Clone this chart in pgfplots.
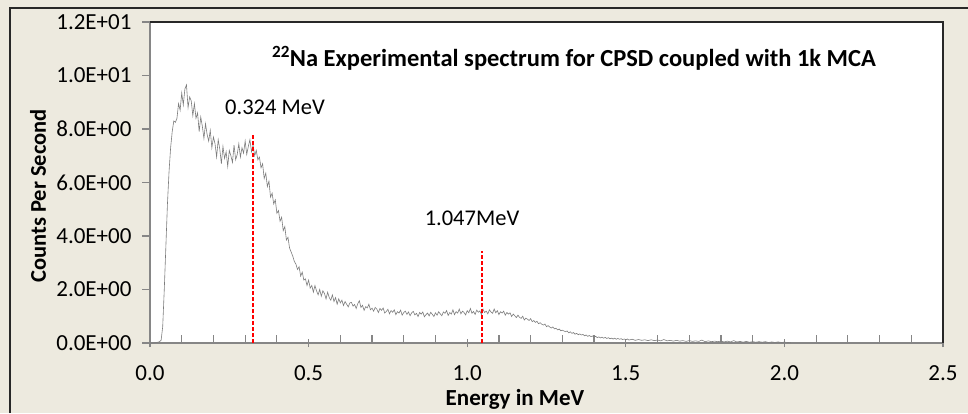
\documentclass[border=0pt]{standalone}
\usepackage{pgfplots}
\pgfplotsset{compat=1.18}
\usepackage{pgfplotstable}
\usepackage{fontspec}
\setmainfont{Carlito}

\definecolor{chartbg}{RGB}{237,234,223}
\definecolor{spec}{RGB}{125,125,125}
\definecolor{axisgray}{RGB}{134,134,134}
\definecolor{frame}{RGB}{40,40,40}

% 22Na spectrum: energy (MeV) vs counts per second
\pgfplotstableread{
E cps
0.000 0.00
0.005 0.00
0.010 0.00
0.015 0.01
0.020 0.02
0.025 0.03
0.030 0.05
0.035 0.10
0.040 0.60
0.045 2.00
0.050 3.60
0.055 5.20
0.060 6.40
0.065 7.30
0.070 7.90
0.075 8.30
0.080 8.25
0.085 8.40
0.090 8.95
0.095 8.70
0.100 9.35
0.105 8.90
0.110 9.50
0.115 9.65
0.120 8.80
0.125 9.20
0.130 9.05
0.135 8.50
0.140 8.95
0.145 8.40
0.150 8.60
0.155 7.90
0.160 8.45
0.165 8.10
0.170 7.65
0.175 8.20
0.180 7.80
0.185 7.55
0.190 7.95
0.195 7.30
0.200 7.70
0.205 7.45
0.210 6.95
0.215 7.60
0.220 7.25
0.225 6.70
0.230 7.35
0.235 6.90
0.240 7.15
0.245 6.60
0.250 7.20
0.255 7.00
0.260 6.75
0.265 7.40
0.270 6.85
0.275 7.05
0.280 7.45
0.285 6.95
0.290 7.30
0.295 7.10
0.300 7.55
0.305 7.05
0.310 7.35
0.315 7.60
0.320 7.15
0.325 7.40
0.330 7.00
0.335 7.20
0.340 6.85
0.345 6.95
0.350 6.55
0.355 6.70
0.360 6.15
0.365 6.35
0.370 5.85
0.375 6.05
0.380 5.45
0.385 5.60
0.390 5.20
0.395 5.35
0.400 4.85
0.405 4.95
0.410 4.55
0.415 4.70
0.420 4.20
0.425 4.35
0.430 3.85
0.435 3.95
0.440 3.55
0.445 3.40
0.450 3.25
0.455 3.05
0.460 2.95
0.465 2.75
0.470 2.85
0.475 2.50
0.480 2.65
0.485 2.35
0.490 2.40
0.495 2.15
0.500 2.35
0.505 2.05
0.510 2.15
0.515 1.90
0.520 2.15
0.525 1.95
0.530 1.80
0.535 2.00
0.540 1.75
0.545 1.95
0.550 1.85
0.555 1.65
0.560 1.90
0.565 1.70
0.570 1.60
0.575 1.80
0.580 1.55
0.585 1.70
0.590 1.45
0.595 1.65
0.600 1.50
0.605 1.60
0.610 1.40
0.615 1.55
0.620 1.45
0.625 1.35
0.630 1.50
0.635 1.52
0.640 1.38
0.645 1.44
0.650 1.29
0.655 1.47
0.660 1.58
0.665 1.33
0.670 1.41
0.675 1.22
0.680 1.36
0.685 1.31
0.690 1.45
0.695 1.24
0.700 1.30
0.705 1.19
0.710 1.33
0.715 1.27
0.720 1.14
0.725 1.29
0.730 1.22
0.735 1.31
0.740 1.12
0.745 1.18
0.750 1.26
0.755 1.09
0.760 1.21
0.765 1.15
0.770 1.24
0.775 1.06
0.780 1.17
0.785 1.12
0.790 1.23
0.795 1.04
0.800 1.14
0.805 1.19
0.810 1.07
0.815 1.16
0.820 1.02
0.825 1.13
0.830 1.18
0.835 1.05
0.840 1.11
0.845 0.99
0.850 1.14
0.855 1.08
0.860 1.16
0.865 0.98
0.870 1.06
0.875 1.12
0.880 1.01
0.885 1.15
0.890 1.07
0.895 0.99
0.900 1.13
0.905 1.04
0.910 1.17
0.915 1.09
0.920 1.02
0.925 1.16
0.930 1.11
0.935 1.21
0.940 1.03
0.945 1.14
0.950 1.08
0.955 1.24
0.960 1.06
0.965 1.17
0.970 1.12
0.975 1.27
0.980 1.09
0.985 1.19
0.990 1.14
0.995 1.05
1.000 1.21
1.005 1.13
1.010 1.29
1.015 1.11
1.020 1.18
1.025 1.07
1.030 1.23
1.035 1.15
1.040 1.20
1.045 1.06
1.050 1.26
1.055 1.14
1.060 1.19
1.065 1.09
1.070 1.24
1.075 1.16
1.080 1.11
1.085 1.27
1.090 1.13
1.095 1.21
1.100 1.06
1.105 1.17
1.110 1.12
1.115 1.19
1.120 1.04
1.125 1.14
1.130 1.08
1.135 1.13
1.140 0.99
1.145 1.08
1.150 1.02
1.155 0.95
1.160 1.04
1.165 0.96
1.170 0.92
1.175 1.00
1.180 0.86
1.185 0.93
1.190 0.89
1.195 0.84
1.200 0.91
1.205 0.80
1.210 0.84
1.215 0.77
1.220 0.81
1.225 0.72
1.230 0.76
1.235 0.70
1.240 0.67
1.245 0.71
1.250 0.61
1.255 0.65
1.260 0.60
1.265 0.56
1.270 0.60
1.275 0.53
1.280 0.55
1.285 0.49
1.290 0.52
1.295 0.46
1.300 0.48
1.305 0.45
1.310 0.42
1.315 0.45
1.320 0.38
1.325 0.42
1.330 0.36
1.335 0.39
1.340 0.33
1.345 0.36
1.350 0.31
1.355 0.34
1.360 0.30
1.365 0.32
1.370 0.27
1.375 0.30
1.380 0.25
1.385 0.28
1.390 0.24
1.395 0.26
1.400 0.22
1.405 0.25
1.410 0.20
1.415 0.23
1.420 0.19
1.425 0.22
1.430 0.18
1.435 0.21
1.440 0.17
1.445 0.20
1.450 0.16
1.455 0.18
1.460 0.15
1.465 0.18
1.470 0.14
1.475 0.17
1.480 0.14
1.485 0.16
1.490 0.13
1.495 0.15
1.500 0.12
1.505 0.15
1.510 0.11
1.520 0.14
1.530 0.10
1.540 0.13
1.550 0.10
1.560 0.12
1.570 0.09
1.580 0.12
1.590 0.09
1.600 0.11
1.610 0.08
1.620 0.13
1.630 0.08
1.640 0.10
1.650 0.07
1.660 0.10
1.670 0.07
1.680 0.09
1.690 0.06
1.700 0.09
1.710 0.06
1.720 0.08
1.730 0.06
1.740 0.11
1.750 0.05
1.760 0.08
1.770 0.05
1.780 0.07
1.790 0.05
1.800 0.07
1.810 0.04
1.820 0.07
1.830 0.04
1.840 0.09
1.850 0.04
1.860 0.06
1.870 0.03
1.880 0.06
1.890 0.03
1.900 0.05
1.910 0.03
1.920 0.05
1.930 0.03
1.940 0.05
1.950 0.02
1.960 0.04
1.970 0.02
1.980 0.04
1.990 0.02
2.000 0.03
2.010 0.02
2.020 0.01
}\spectrum

\begin{document}
\begin{tikzpicture}
% chart area, 968 x 413
\path[use as bounding box] (0,0) rectangle (968pt,413pt);
\fill[chartbg] (0,0) rectangle (968pt,413pt);
\draw[frame, line width=1.6pt] (10pt,0) -- (10pt,405pt) -- (968pt,405pt);

\begin{axis}[
  at={(150pt,70pt)}, anchor=south west,
  scale only axis, width=793pt, height=321pt,
  xmin=0, xmax=2.5, ymin=0, ymax=12,
  axis background/.style={fill=white},
  axis x line*=bottom, axis y line*=left,
  axis line style={axisgray, line width=1.5pt, -},
  xtick={0,0.5,1,1.5,2,2.5},
  xticklabels={0.0,0.5,1.0,1.5,2.0,2.5},
  ytick={0,2,4,6,8,10,12},
  yticklabels={0.0E+00,2.0E+00,4.0E+00,6.0E+00,8.0E+00,1.0E+01,1.2E+01},
  extra x ticks={0.1,0.2,0.3,0.4,0.6,0.7,0.8,0.9,1.1,1.2,1.3,1.4,1.6,1.7,1.8,1.9,2.1,2.2,2.3,2.4},
  extra x tick labels={},
  extra x tick style={xtick align=inside},
  xtick align=center, ytick align=outside,
  major tick length=8pt,
  tick style={axisgray, line width=1.2pt},
  ticklabel style={font=\fontsize{23}{27}\selectfont, text=black},
  xticklabel style={yshift=-15pt},
  yticklabel style={xshift=-7pt},
  xlabel={\textbf{Energy in MeV}},
  every axis x label/.style={at={(365pt,-56pt)}, anchor=center, font=\fontsize{23}{27}\selectfont},
  ylabel={\textbf{Counts Per Second}},
  every axis y label/.style={at={(-112pt,147pt)}, anchor=center, rotate=90, font=\fontsize{22.5}{27}\selectfont},
  clip=false,
]
\addplot[spec, line width=0.6pt] table[x=E, y=cps] {\spectrum};
\addplot[red, line width=1.5pt, dash pattern=on 4pt off 2pt] coordinates {(0.324,0) (0.324,7.85)};
\addplot[red, line width=1.5pt, dash pattern=on 4pt off 2pt] coordinates {(1.047,0) (1.047,3.44)};
\draw[frame, line width=1.6pt] (rel axis cs:0,1) -- (rel axis cs:1,1) -- (rel axis cs:1,0);
\end{axis}

\node[font=\fontsize{24.5}{29}\selectfont\bfseries] at (574pt,355pt) {\textsuperscript{22}Na Experimental spectrum for CPSD coupled with 1k MCA};
\node[font=\fontsize{22.5}{27}\selectfont] at (275pt,306pt) {0.324 MeV};
\node[font=\fontsize{22.5}{27}\selectfont] at (472pt,195pt) {1.047MeV};
\end{tikzpicture}
\end{document}
